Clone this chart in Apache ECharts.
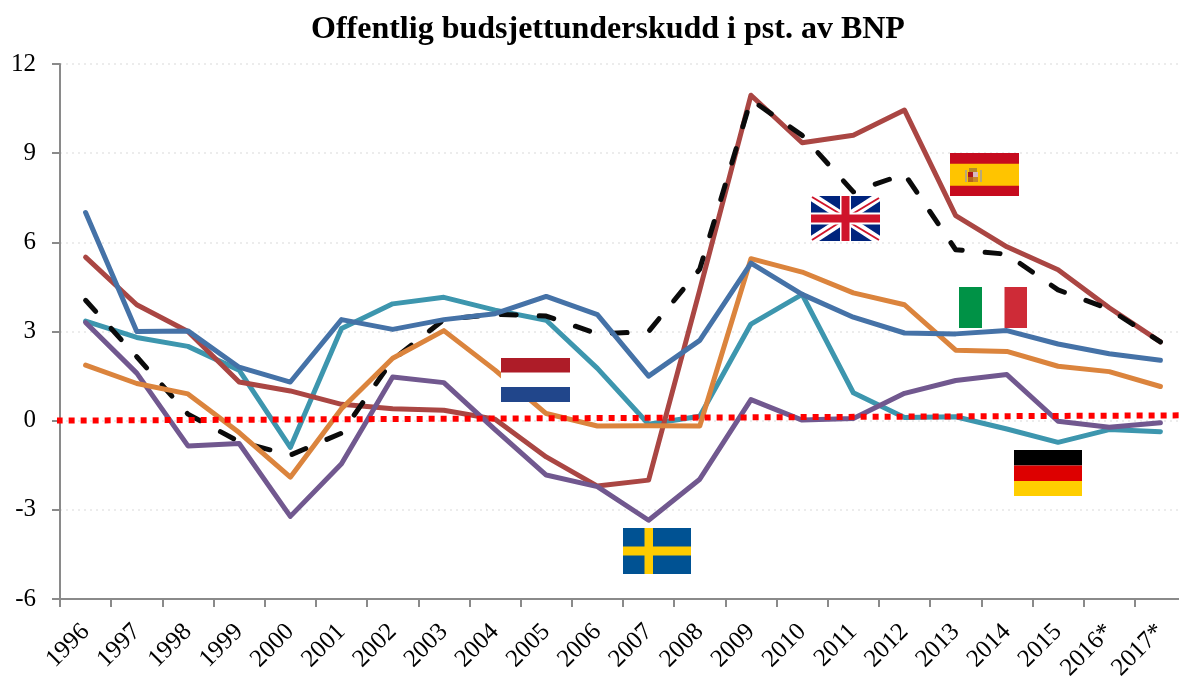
<!DOCTYPE html>
<html><head><meta charset="utf-8">
<style>html,body{margin:0;padding:0;background:#fff;overflow:hidden}#c{width:1179px;height:677px}</style>
<script src="https://cdn.jsdelivr.net/npm/echarts@6/dist/echarts.min.js"></script>
</head><body><div id="c"></div>
<script>
const years = ['1996','1997','1998','1999','2000','2001','2002','2003','2004','2005','2006','2007','2008','2009','2010','2011','2012','2013','2014','2015','2016*','2017*'];
const spain = [5.5,3.9,3.0,1.3,1.0,0.55,0.4,0.35,0.05,-1.22,-2.2,-2.0,4.4,10.95,9.35,9.6,10.45,6.9,5.85,5.08,3.8,2.65];
const uk = [4.05,2.15,0.22,-0.71,-1.16,-0.42,2.05,3.4,3.58,3.52,2.92,3.0,5.1,10.8,9.6,7.7,8.3,5.75,5.6,4.4,3.75,2.65];
const germany = [3.35,2.8,2.5,1.7,-0.9,3.1,3.93,4.15,3.72,3.38,1.76,-0.12,0.15,3.25,4.25,0.94,0.11,0.13,-0.28,-0.73,-0.3,-0.37];
const sweden = [3.3,1.6,-0.85,-0.77,-3.22,-1.45,1.47,1.28,-0.3,-1.83,-2.22,-3.35,-1.97,0.71,0.02,0.07,0.92,1.35,1.55,-0.02,-0.22,-0.07];
const netherlands = [1.87,1.25,0.9,-0.4,-1.9,0.4,2.1,3.03,1.7,0.24,-0.18,-0.17,-0.18,5.45,5.0,4.3,3.9,2.37,2.33,1.83,1.65,1.15];
const italy = [7.0,3.0,3.02,1.8,1.3,3.4,3.07,3.4,3.6,4.18,3.57,1.5,2.7,5.3,4.25,3.48,2.95,2.92,3.03,2.58,2.25,2.03];
const zeroLine = [[-0.3,0.0],[22,0.18]];
const yTicks = {min:-6,max:12,interval:3};
const titleText = 'Offentlig budsjettunderskudd i pst. av BNP';

const FONT = '"Liberation Serif","Times New Roman",serif';
function mk(name,data,color,z,extra){
  return {name,type:'line',data,symbol:'none',smooth:false,z,
    lineStyle:Object.assign({color,width:5,cap:'round',join:'round'},extra||{}),
    animation:false,silent:true};
}
function R(x,y,w,h,fill){return {type:'rect',shape:{x,y,width:w,height:h},style:{fill},z:50,silent:true};}
function P(points,fill){return {type:'polygon',shape:{points},style:{fill},z:50,silent:true};}
function L(a,b,c,d,col,w){return {type:'line',shape:{x1:a,y1:b,x2:c,y2:d},style:{stroke:col,lineWidth:w},z:50,silent:true};}
function jack(x,y,w,h){
  const x1=x+w,y1=y+h,cx=x+w/2,cy=y+h/2,t=8,k=t*h/w,out=[];
  out.push(R(x,y,w,h,'#00247D'));
  out.push(P([[x,y],[x+t,y],[x1,y1-k],[x1,y1],[x1-t,y1],[x,y+k]],'#fff'));
  out.push(P([[x1,y],[x1,y+k],[x+t,y1],[x,y1],[x,y1-k],[x1-t,y]],'#fff'));
  out.push(L(x+1,y+1,cx-6,cy-5,'#CF142B',2));
  out.push(L(x1-1,y+2,cx+6,cy-4,'#CF142B',2));
  out.push(L(x1-1,y1-1,cx+6,cy+5,'#CF142B',2));
  out.push(L(x+1,y1-1,cx-6,cy+4,'#CF142B',2));
  out.push(R(cx-5.5,y,11,h,'#fff'));
  out.push(R(x,cy-6,w,12,'#fff'));
  out.push(R(cx-4,y,8,h,'#CF142B'));
  out.push(R(x,cy-4,w,8,'#CF142B'));
  return out;
}
const flags = [
  // Netherlands
  R(501,358,69,44,'#fff'),R(501,358,69,14.5,'#AE1C28'),R(501,387,69,15,'#21468B'),
  // Sweden
  R(623,528,68,46,'#005293'),R(644.5,528,8.5,46,'#FECB00'),R(623,546.5,68,9,'#FECB00'),
  // Spain
  R(950,153,69,43,'#C60B1E'),R(950,163.7,69,22,'#FFC400'),
  R(965,170,2,12,'#B8A878'),R(980,170,2,12,'#B8A878'),R(968,172,10,10,'#B5651D'),R(969,168,8,4,'#B5892A'),R(973,172,5,5,'#D8B8C0'),R(973,177,5,5,'#C8862A'),R(968,172,5,5,'#AD1519'),
  // Italy
  R(959,287,68,41,'#fff'),R(959,287,23,41,'#009246'),R(1004.5,287,22.5,41,'#CE2B37'),
  // Germany
  R(1014,450,68,15.5,'#000'),R(1014,465.5,68,15.5,'#DD0000'),R(1014,481,68,15,'#FFCE00')
].concat(jack(811,196,69,45));

const chart = echarts.init(document.getElementById('c'),null,{renderer:'canvas'});
chart.setOption({
  animation:false,backgroundColor:'#fff',
  title:{text:titleText,left:306,top:9,textStyle:{fontFamily:FONT,fontSize:32,fontWeight:'bold',color:'#000'}},
  grid:{left:60,top:64,width:1126,height:535,containLabel:false,outerBoundsMode:'none'},
  xAxis:[{type:'category',data:years,boundaryGap:true,axisLine:{onZero:false,lineStyle:{color:'#8a8a8a',width:2}},
      axisTick:{show:true,alignWithLabel:false,length:8,lineStyle:{color:'#8a8a8a',width:2}},
      axisLabel:{rotate:45,interval:0,margin:29,fontFamily:FONT,fontSize:25,color:'#000',hideOverlap:false},splitLine:{show:false}},
    {type:'value',min:0,max:22,show:false,splitLine:{show:false}}],
  yAxis:{type:'value',min:yTicks.min,max:yTicks.max,interval:yTicks.interval,
    axisLine:{show:true,onZero:false,lineStyle:{color:'#8a8a8a',width:2}},
    axisTick:{show:true,length:8,lineStyle:{color:'#8a8a8a',width:2}},
    axisLabel:{margin:24,fontFamily:FONT,fontSize:25,color:'#000'},
    splitLine:{show:true,lineStyle:{color:'#e6e6e6',width:1.5,type:[2,4]}}},
  series:[
    mk('Tyskland',germany,'#3D96AE',3),
    mk('Spania',spain,'#AA4643',4),
    mk('Storbritannia',uk,'#0b0b0b',5,{type:[15,23]}),
    mk('Sverige',sweden,'#71588F',6),
    mk('Nederland',netherlands,'#DB843D',7),
    mk('Italia',italy,'#4572A7',8),
    {name:'Null',type:'line',xAxisIndex:1,yAxisIndex:0,data:zeroLine,symbol:'none',clip:false,z:20,silent:true,
      lineStyle:{color:'#FF0000',width:6,type:[6,6],cap:'butt'}}
  ],
  graphic:{elements:flags}
});
</script></body></html>
